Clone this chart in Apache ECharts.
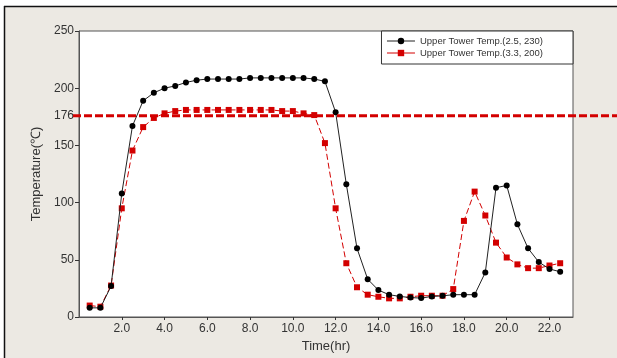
<!DOCTYPE html>
<html>
<head>
<meta charset="utf-8">
<script src="https://cdn.jsdelivr.net/npm/echarts@6/dist/echarts.min.js"></script>
<style>
  html, body { margin: 0; padding: 0; background: #ffffff; overflow: hidden; }
  #chart { width: 617px; height: 358px; }
</style>
</head>
<body>
<div id="chart"></div>
<script>
// Sampling times (hours), every half hour
const times = [0.5, 1.0, 1.5, 2.0, 2.5, 3.0, 3.5, 4.0, 4.5, 5.0, 5.5, 6.0, 6.5, 7.0, 7.5,
  8.0, 8.5, 9.0, 9.5, 10.0, 10.5, 11.0, 11.5, 12.0, 12.5, 13.0, 13.5, 14.0, 14.5, 15.0,
  15.5, 16.0, 16.5, 17.0, 17.5, 18.0, 18.5, 19.0, 19.5, 20.0, 20.5, 21.0, 21.5, 22.0, 22.5];

// Upper tower temperature, condition (2.5, 230)
const tempA = [8, 8, 27, 108, 167, 189, 196, 200, 202, 205, 207, 208, 208, 208, 208,
  209, 209, 209, 209, 209, 209, 208, 206, 179, 116, 60, 33, 23.5, 19.5, 18,
  17, 16.5, 18, 18.5, 19.5, 19.5, 19.5, 39, 113, 115, 81, 60, 48, 42, 39.5];

// Upper tower temperature, condition (3.3, 200)
const tempB = [10, 9, 27.5, 95, 145.5, 166, 174, 178, 180, 181, 181, 181, 181, 181, 181,
  181, 181, 181, 180, 180, 178, 176.5, 152, 95, 47, 26, 19.5, 17.7, 16.3, 16.3,
  17.7, 18.6, 18.6, 18.6, 24.4, 84, 109.6, 88.7, 65, 52, 46, 42.7, 42.7, 45, 47];

const seriesNames = ['Upper Tower Temp.(2.5, 230)', 'Upper Tower Temp.(3.3, 200)'];
const xTickValues = [2, 4, 6, 8, 10, 12, 14, 16, 18, 20, 22];
const yTickValues = [0, 50, 100, 150, 176, 200, 250];
const yMajorTicks = [0, 50, 100, 150, 200, 250];
const referenceTemp = 176;

const font = '"Liberation Sans", Arial, sans-serif';
const red = '#d30000';

const chart = echarts.init(document.getElementById('chart'), null, { renderer: 'canvas' });

const pairs = (ys) => times.map((t, i) => [t, ys[i]]);

// Grey panel with a dark rule along its top and left edges
const frame = [
  { type: 'rect', z: -10, silent: true,
    shape: { x: 4, y: 6, width: 613, height: 352 },
    style: { fill: '#ece9e3' } },
  { type: 'line', z: -9, silent: true,
    shape: { x1: 4, y1: 6.5, x2: 617, y2: 6.5 },
    style: { stroke: '#111111', lineWidth: 1.5 } },
  { type: 'line', z: -9, silent: true,
    shape: { x1: 4.5, y1: 6, x2: 4.5, y2: 358 },
    style: { stroke: '#111111', lineWidth: 1.5 } }
];

chart.setOption({
  animation: false,
  backgroundColor: '#ffffff',
  graphic: frame,
  grid: {
    left: 79, top: 31, right: 44, bottom: 41,
    show: true, backgroundColor: '#ffffff', borderColor: '#555555', borderWidth: 1
  },
  legend: {
    orient: 'vertical', right: 44, top: 31,
    backgroundColor: '#ffffff', borderColor: '#333333', borderWidth: 1,
    borderRadius: 0, padding: [5, 30, 6, 5], itemGap: 2,
    itemWidth: 28, itemHeight: 8,
    lineStyle: { type: 'solid', width: 1 },
    textStyle: { fontFamily: font, fontSize: 9.5, color: '#333333' },
    data: [seriesNames[0], seriesNames[1]]
  },
  xAxis: {
    type: 'value', min: 0, max: 23.1,
    name: 'Time(hr)', nameLocation: 'middle', nameGap: 22,
    nameTextStyle: { fontFamily: font, fontSize: 13, color: '#333333' },
    axisLine: { show: true, lineStyle: { color: '#555555', width: 1 } },
    axisTick: { show: true, length: 3, customValues: xTickValues, lineStyle: { color: '#333333' } },
    axisLabel: {
      customValues: xTickValues, margin: 6,
      fontFamily: font, fontSize: 12, color: '#333333',
      formatter: (v) => v.toFixed(1)
    },
    splitLine: { show: false }
  },
  yAxis: {
    type: 'value', min: 0, max: 250,
    name: 'Temperature(℃)', nameLocation: 'middle', nameGap: 36,
    nameTextStyle: { fontFamily: font, fontSize: 13, color: '#333333' },
    axisLine: { show: true, lineStyle: { color: '#555555', width: 1 } },
    axisTick: { show: true, length: 4, customValues: yMajorTicks, lineStyle: { color: '#333333' } },
    axisLabel: {
      customValues: yTickValues, margin: 5,
      fontFamily: font, fontSize: 12, color: '#333333'
    },
    splitLine: { show: false }
  },
  series: [
    {
      name: seriesNames[0], type: 'line', data: pairs(tempA),
      symbol: 'circle', symbolSize: 6,
      itemStyle: { color: '#000000' },
      lineStyle: { color: '#222222', width: 1 },
      z: 3
    },
    {
      name: seriesNames[1], type: 'line', data: pairs(tempB),
      symbol: 'rect', symbolSize: 6,
      itemStyle: { color: red },
      lineStyle: { color: red, width: 1, type: [6, 3] },
      z: 2
    }
  ]
});

// Reference temperature line, running past the plot box to the right edge
function drawReference() {
  const y = chart.convertToPixel({ yAxisIndex: 0 }, referenceTemp);
  const x0 = chart.convertToPixel({ xAxisIndex: 0 }, 0) - 6;
  chart.setOption({
    graphic: frame.concat([{
      type: 'line', z: 10, silent: true,
      shape: { x1: x0, y1: y, x2: 617, y2: y },
      style: { stroke: red, lineWidth: 3, lineDash: [8, 3] }
    }])
  });
}
drawReference();
</script>
</body>
</html>
